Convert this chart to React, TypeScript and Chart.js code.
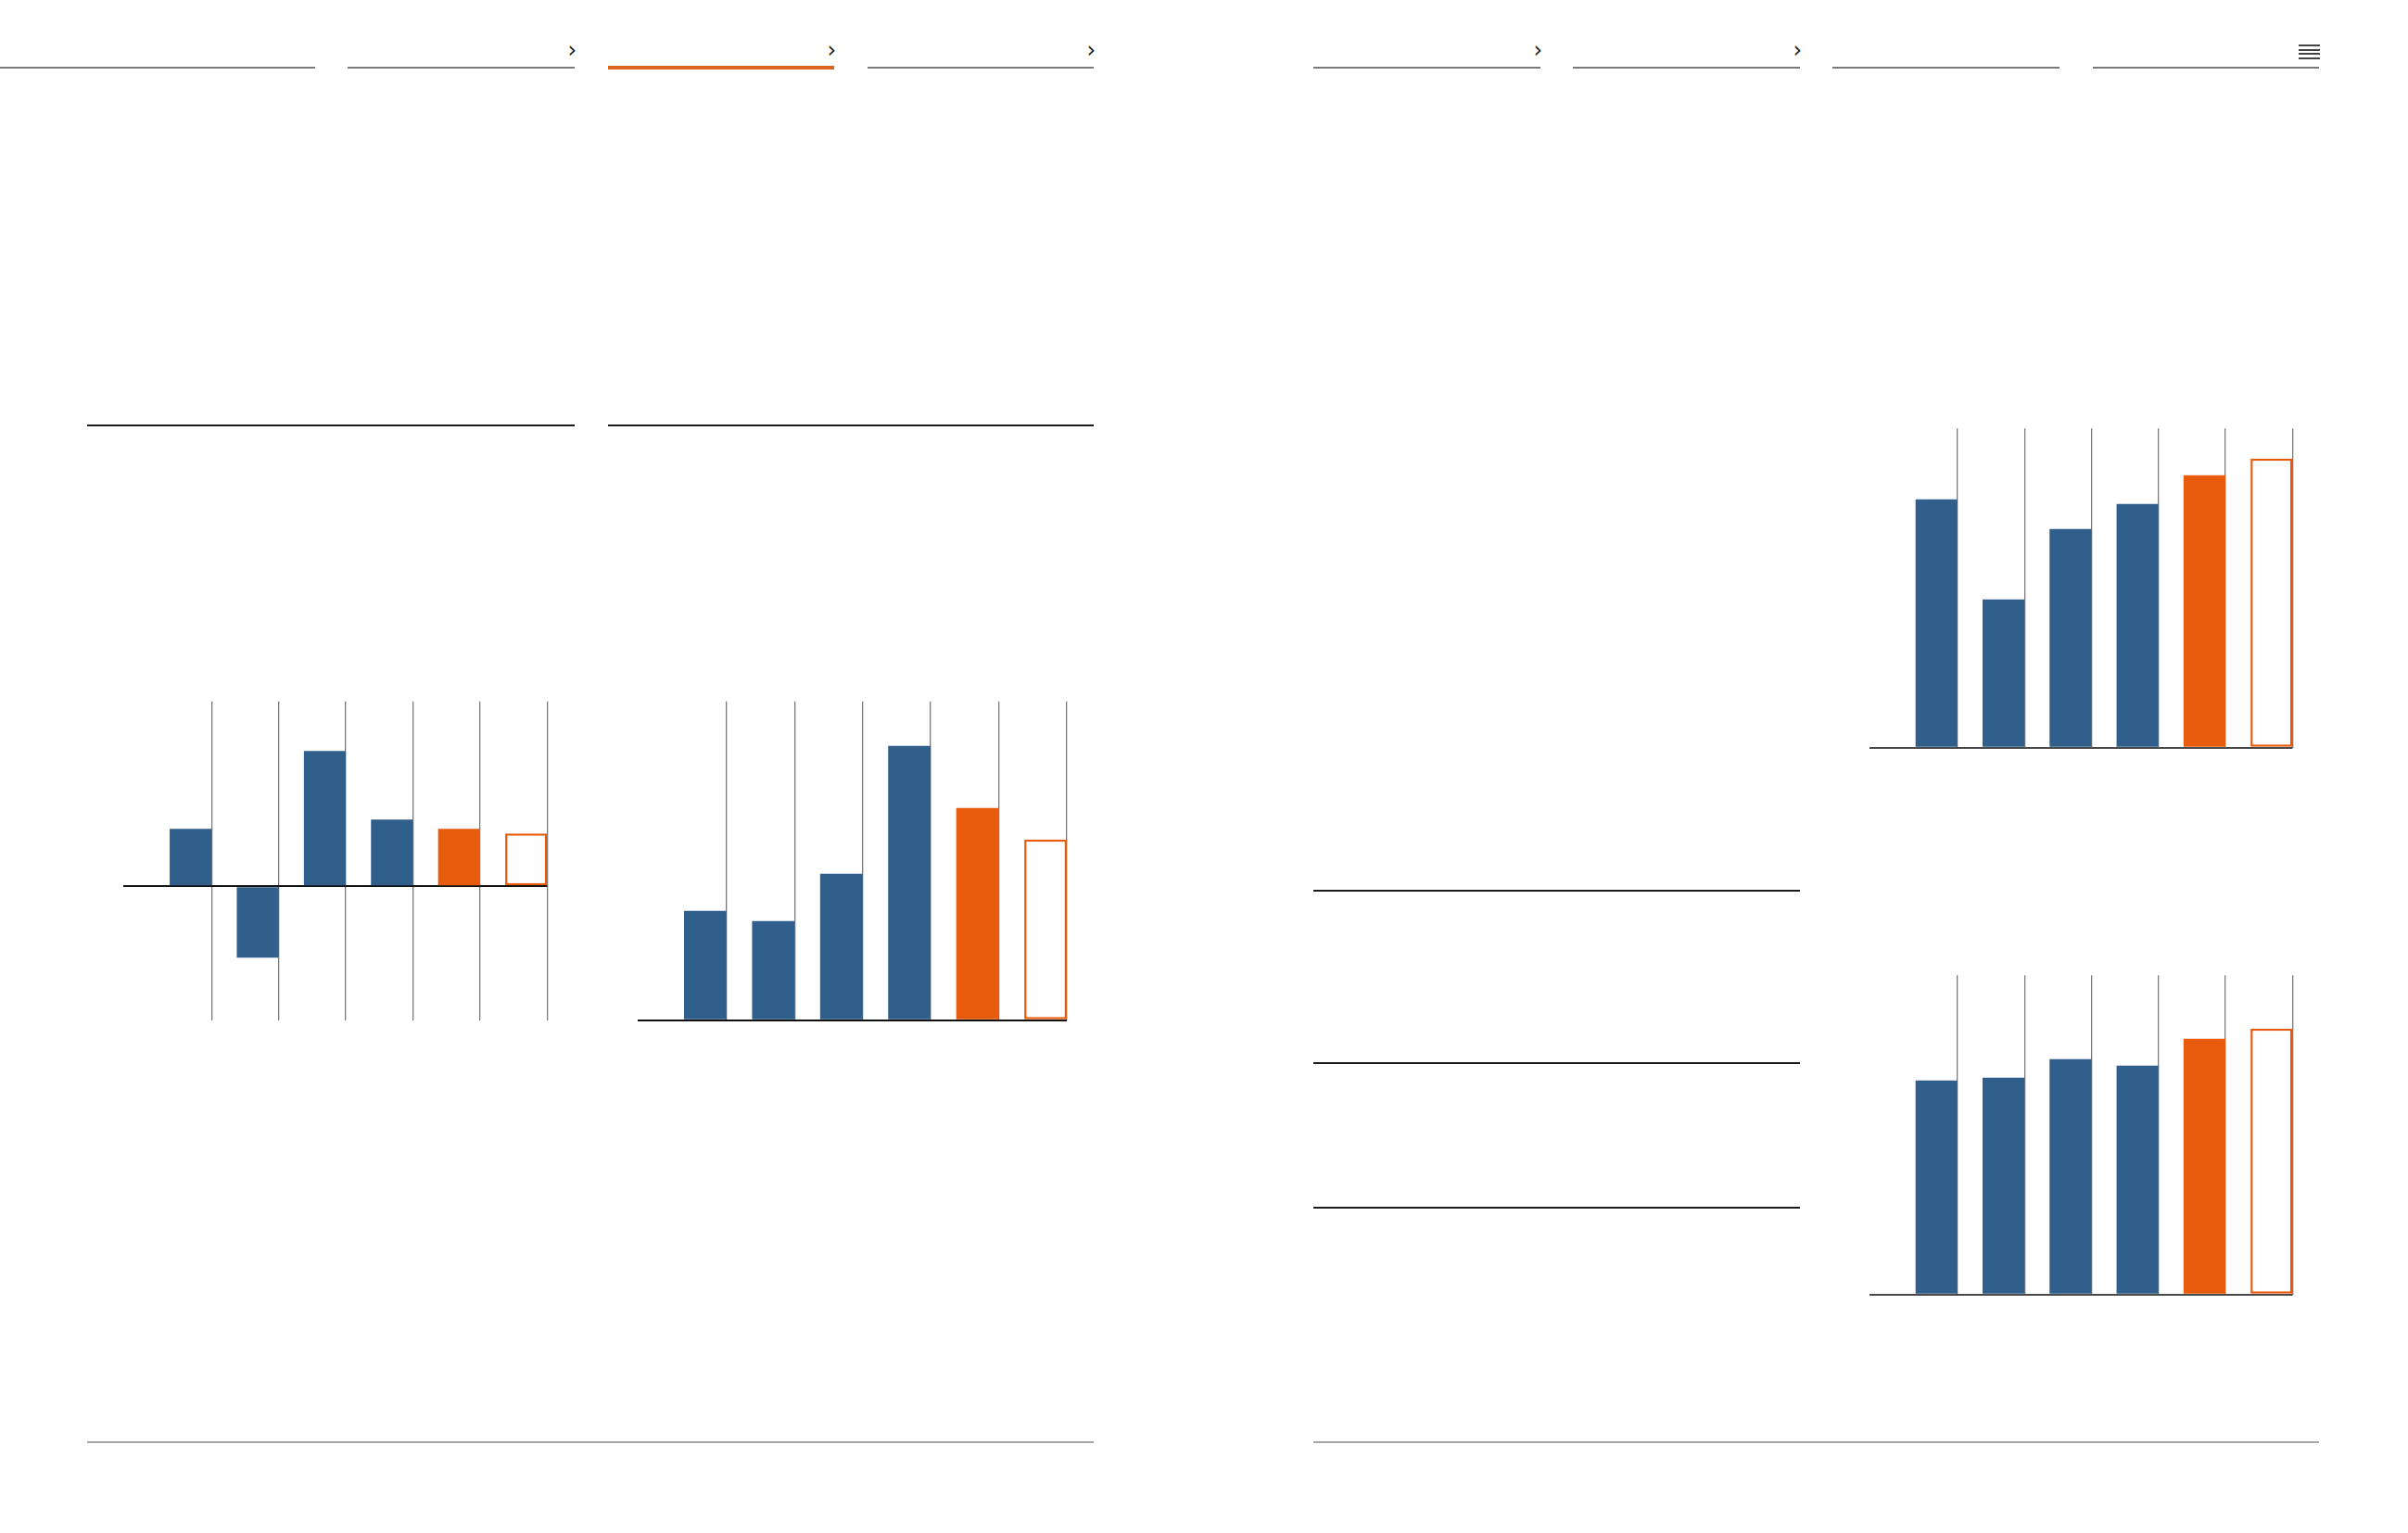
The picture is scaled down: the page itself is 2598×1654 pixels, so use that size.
import React, { useEffect, useRef } from 'react';
import { Chart, registerables } from 'chart.js';

Chart.register(...registerables);

// ---- data ----
const categories = ['2015', '2016', '2017', '2018', '2019', '2020E'];
const barKinds = ['actual', 'actual', 'actual', 'actual', 'current', 'forecast'];
const seriesGrowth = [6.2, -7.7, 14.6, 7.2, 6.2, 5.7];
const seriesMiddle = [11.8, 10.7, 15.8, 29.6, 22.9, 19.5];
const seriesUpperRight = [26.8, 16.0, 23.6, 26.3, 29.4, 31.2];
const seriesLowerRight = [23.1, 23.4, 25.4, 24.7, 27.6, 28.7];
const rangeGrowth = [-14.44, 19.96];
const rangeMiddle = [0, 34.4];
const rangeRight = [0, 34.44];

// ---- style ----
const BLUE = '#2f5f8a';
const ORANGE = '#e85b0c';
const GRID = '#7a7a7a';
const BAR_FRACTION = 0.625;
const HALF = BAR_FRACTION / 2;

type ChartSpec = {
  values: number[];
  range: number[];
  area: { left: number; top: number; right: number; bottom: number };
  baseColor: string;
};

const specs: ChartSpec[] = [
  { values: seriesGrowth, range: rangeGrowth, area: { left: 133.3, top: 756.7, right: 590.3, bottom: 1100.7 }, baseColor: '#111111' },
  { values: seriesMiddle, range: rangeMiddle, area: { left: 687.5, top: 756.7, right: 1151, bottom: 1100.7 }, baseColor: '#111111' },
  { values: seriesUpperRight, range: rangeRight, area: { left: 2017, top: 462.3, right: 2473.3, bottom: 806.7 }, baseColor: '#4a4a4a' },
  { values: seriesLowerRight, range: rangeRight, area: { left: 2017, top: 1052.3, right: 2473.3, bottom: 1396.7 }, baseColor: '#4a4a4a' },
];

const PAD = 12;

function BarPanel({ spec }: { spec: ChartSpec }) {
  const ref = useRef<HTMLCanvasElement | null>(null);
  const { area } = spec;
  const left = Math.floor(area.left) - PAD;
  const top = Math.floor(area.top) - PAD;
  const width = Math.ceil(area.right) + PAD - left;
  const height = Math.ceil(area.bottom) + PAD - top;

  useEffect(() => {
    if (!ref.current) return;
    const fill = barKinds.map((k) => (k === 'actual' ? BLUE : k === 'current' ? ORANGE : '#ffffff'));
    const border = barKinds.map((k) => (k === 'forecast' ? ORANGE : 'rgba(0,0,0,0)'));
    const borderW = barKinds.map((k) => (k === 'forecast' ? 2.5 : 0));
    const gridTicks = categories.map((_, i) => i + 1 + HALF);
    const chart = new Chart(ref.current, {
      type: 'bar',
      data: {
        datasets: [
          {
            label: 'values',
            data: spec.values.map((v, i) => ({ x: i + 1, y: v })),
            backgroundColor: fill,
            borderColor: border,
            borderWidth: borderW,
            borderSkipped: false,
            categoryPercentage: 1,
            barPercentage: BAR_FRACTION,
          },
        ],
      },
      options: {
        responsive: false,
        animation: false,
        devicePixelRatio: 1,
        layout: {
          padding: {
            left: area.left - left,
            top: area.top - top,
            right: left + width - area.right,
            bottom: top + height - area.bottom,
          },
        },
        plugins: { legend: { display: false }, tooltip: { enabled: false } },
        scales: {
          x: {
            type: 'linear',
            offset: false,
            min: 0,
            max: categories.length + HALF,
            ticks: { display: false },
            border: { display: false },
            grid: { color: GRID, lineWidth: 1.3, drawTicks: false, offset: false },
            afterBuildTicks: (scale: any) => {
              scale.ticks = gridTicks.map((v) => ({ value: v }));
            },
          },
          y: {
            type: 'linear',
            min: spec.range[0],
            max: spec.range[1],
            z: 1,
            ticks: { display: false },
            border: { display: false },
            grid: { color: spec.baseColor, lineWidth: 2, drawTicks: false },
            afterBuildTicks: (scale: any) => {
              scale.ticks = [{ value: 0 }];
            },
          },
        },
      },
    } as any);
    return () => chart.destroy();
  }, [spec]);

  return (
    <canvas
      ref={ref}
      width={width}
      height={height}
      style={{ position: 'absolute', left, top, width, height }}
    />
  );
}

const Line = ({ x1, x2, y, h, color }: { x1: number; x2: number; y: number; h: number; color: string }) => (
  <div style={{ position: 'absolute', left: x1, top: y - h / 2, width: x2 - x1, height: h, background: color }} />
);

const Chevron = ({ right }: { right: number }) => (
  <div
    style={{
      position: 'absolute',
      left: right - 30,
      width: 30,
      top: 42,
      textAlign: 'right',
      fontFamily: '"DejaVu Sans", sans-serif',
      fontSize: 24,
      lineHeight: '24px',
      color: '#222',
    }}
  >
    ›
  </div>
);

const navSegs = [
  [0, 340],
  [374.5, 620],
  [656, 900],
  [936, 1180],
  [1417, 1662],
  [1697, 1942],
  [1977, 2222],
  [2258, 2502],
];
const chevronSegs = [1, 2, 3, 4, 5];

export default function App() {
  useEffect(() => {
    document.body.style.margin = '0';
  }, []);
  return (
    <div style={{ position: 'absolute', left: 0, top: 0, width: 2598, height: 1654, background: '#fff', overflow: 'hidden' }}>
      {navSegs.map(([a, b], i) =>
        i === 2 ? (
          <Line key={i} x1={a} x2={b} y={73} h={4} color="#de6324" />
        ) : (
          <Line key={i} x1={a} x2={b} y={73} h={2} color="#7a7a7a" />
        )
      )}
      {chevronSegs.map((i) => (
        <Chevron key={i} right={navSegs[i][1] + 2} />
      ))}
      {[49, 53.5, 58, 62.5].map((y, i) => (
        <Line key={'h' + i} x1={2480} x2={2503} y={y} h={2} color="#444" />
      ))}
      <Line x1={94} x2={620} y={459} h={2} color="#1a1a1a" />
      <Line x1={656} x2={1180} y={459} h={2} color="#1a1a1a" />
      <Line x1={1417} x2={1942} y={960.5} h={2} color="#1a1a1a" />
      <Line x1={1417} x2={1942} y={1146.5} h={2} color="#1a1a1a" />
      <Line x1={1417} x2={1942} y={1303} h={2} color="#1a1a1a" />
      <Line x1={94} x2={1180} y={1556} h={2} color="#a6a6a6" />
      <Line x1={1417} x2={2502} y={1556} h={2} color="#a6a6a6" />
      {specs.map((s, i) => (
        <BarPanel key={i} spec={s} />
      ))}
    </div>
  );
}
